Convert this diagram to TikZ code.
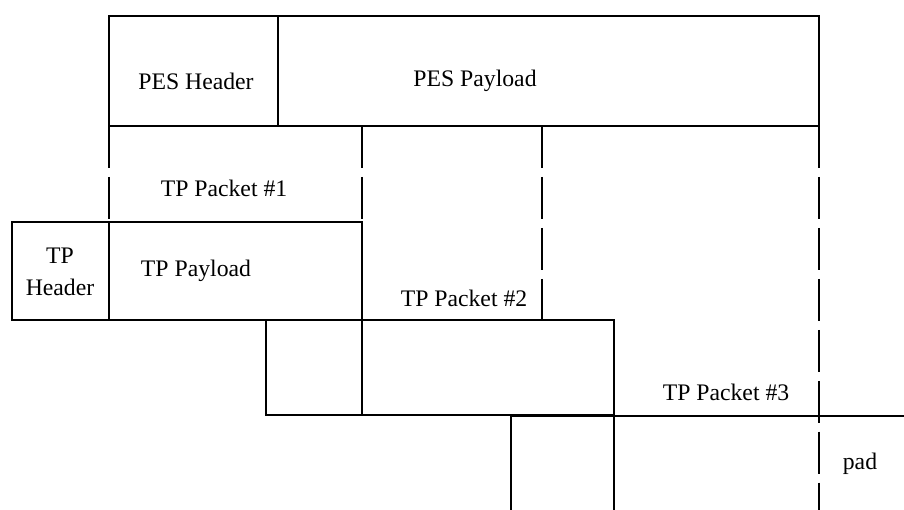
\documentclass[tikz,border=0pt]{standalone}
\usepackage{fontspec}
\setmainfont{Liberation Serif}
\usepackage{tikz}
\tikzset{box/.style = {draw, line width = 1.4pt}}
\tikzset{divider/.style = {draw, line width = 0.6pt}}
\tikzset{cut/.style = {draw, line width = 0.6pt, dash pattern = on 24pt off 5pt}}
\tikzset{label/.style = {font = \fontsize{13.5}{16}\selectfont, align = center, inner sep = 0pt}}

\begin{document}
\begin{tikzpicture}[x = 0.02cm, y = -0.02cm]
			\useasboundingbox (0, 0) rectangle (904, 510);

			\draw[box] (109, 16) rectangle (819, 126);
			\draw[divider] (278, 16) -- (278, 126);
			\node[label] (pesh) at (196, 81) {PES Header};
			\node[label] (pesp) at (475, 81) {PES Payload};

			\draw[cut] (109, 126) -- (109, 222);
			\draw[cut] (362, 126) -- (362, 222);
			\draw[cut] (542, 126) -- (542, 320);
			\draw[cut] (819, 126) -- (819, 510);

			\node[label] (tp1) at (224, 188) {TP Packet \#1};
			\draw[box] (12, 222) rectangle (362, 320);
			\draw[divider] (109, 222) -- (109, 320);
			\node[label] (tph) at (60, 272) {TP\\[2pt]Header};
			\node[label] (tpp) at (196, 271) {TP Payload};

			\node[label] (tp2) at (464, 298) {TP Packet \#2};
			\draw[box] (266, 320) rectangle (614, 415);
			\draw[divider] (362, 320) -- (362, 415);

			\node[label] (tp3) at (726, 392) {TP Packet \#3};
			\draw[box] (904, 416) -- (511, 416) -- (511, 510);
			\draw[divider] (614, 416) -- (614, 510);
			\node[label] (pad) at (860, 464) {pad};
		\end{tikzpicture}
\end{document}
